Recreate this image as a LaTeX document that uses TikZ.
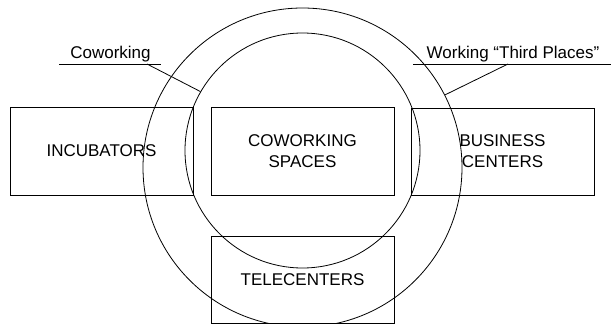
\documentclass[tikz,border=0pt]{standalone}
\usepackage{fontspec}
\setmainfont{Liberation Sans}
\begin{document}
\begin{tikzpicture}[x=1pt,y=-1pt,
  line width=0.8pt,
  every node/.style={font=\fontsize{17}{21}\selectfont},
  areabox/.style={draw, rectangle, inner sep=0pt, align=center},
  tag/.style={inner sep=0pt, anchor=base}]
  \useasboundingbox (0,0) rectangle (611,324);

  % the two overlapping circles
  \node[draw, circle, minimum size=319pt, inner sep=0pt] (outer) at (302.5,167.5) {};
  \node[draw, circle, minimum size=235pt, inner sep=0pt] (inner) at (302.5,150.5) {};

  % the four kinds of work space
  \node[areabox, minimum width=183pt, minimum height=88pt] (incub) at (101.5,151) {INCUBATORS};
  \node[areabox, minimum width=183pt, minimum height=88pt] (cowork) at (302.5,151) {COWORKING\\SPACES};
  \node[areabox, minimum width=183pt, minimum height=87pt] (business) at (502.5,151.5) {BUSINESS\\CENTERS};
  \node[areabox, minimum width=183pt, minimum height=87pt] (tele) at (302.5,279.5) {TELECENTERS};

  % labels with underline and leader line
  \node[tag] (lcowork) at (110.5,58) {Coworking};
  \coordinate (ucl) at (59,64);
  \coordinate (ucr) at (161,64);
  \coordinate (ucm) at (147,64);
  \coordinate (ucend) at (inner.150);
  \draw (ucl) -- (ucr);
  \draw (ucm) -- (ucend);

  \node[tag] (lthird) at (513,58) {Working “Third Places”};
  \coordinate (utl) at (413,64);
  \coordinate (utr) at (611,64);
  \coordinate (utm) at (508,64);
  \coordinate (utend) at (outer.27.5);
  \draw (utl) -- (utr);
  \draw (utm) -- (utend);
\end{tikzpicture}
\end{document}
